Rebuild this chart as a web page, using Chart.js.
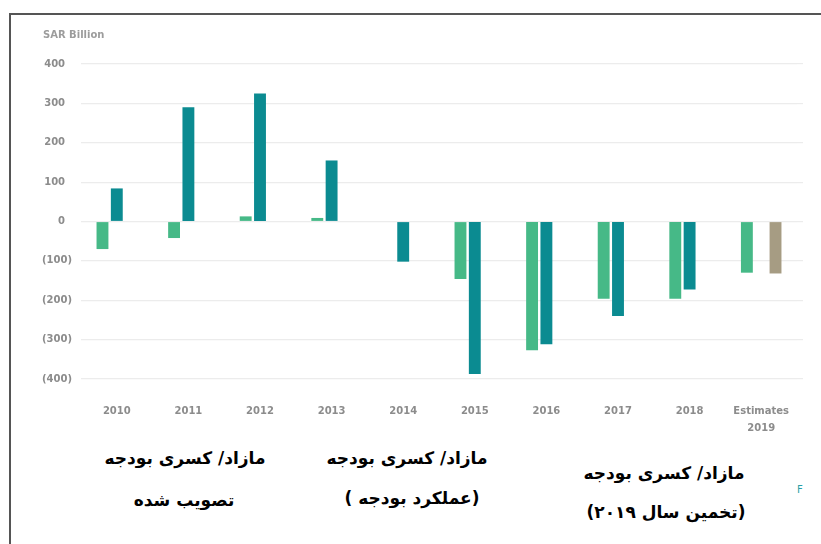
<!DOCTYPE html>
<html>
<head>
<meta charset="utf-8">
<script src="https://cdn.jsdelivr.net/npm/chart.js@4"></script>
<style>
  html, body { margin: 0; padding: 0; background: #fff; }
  body { width: 821px; height: 544px; position: relative; overflow: hidden; }
  #frame { position: absolute; left: 9px; top: 13px; width: 830px; height: 560px;
           border-top: 2px solid #555; border-left: 2px solid #555; }
  #wrap { position: absolute; left: 0; top: 0; width: 821px; height: 440px; }
  .fa { position: absolute; transform: translate(-50%, -50%); white-space: nowrap;
        direction: rtl; text-align: center; font-family: "DejaVu Sans", sans-serif;
        font-weight: bold; font-size: 17px; color: #000; }
  #mark { position: absolute; left: 797px; top: 484px; font: 10px "DejaVu Sans", sans-serif; color: #2a9fa5; }
</style>
</head>
<body>
<div id="frame"></div>
<div id="wrap"><canvas id="chart"></canvas></div>

<div class="fa" style="left:185px; top:458px;">مازاد/ کسری بودجه</div>
<div class="fa" style="left:184px; top:500px;">تصویب شده</div>
<div class="fa" style="left:407px; top:458px;">مازاد/ کسری بودجه</div>
<div class="fa" style="left:412px; top:498px;">(عملکرد بودجه )</div>
<div class="fa" style="left:664px; top:473px;">مازاد/ کسری بودجه</div>
<div class="fa" style="left:666px; top:512px;">(تخمین سال ۲۰۱۹)</div>
<div id="mark">F</div>

<script>
// categories and series, SAR billion
var years = ['2010', '2011', '2012', '2013', '2014', '2015', '2016', '2017', '2018', ['Estimates', '2019']];
var approvedBudget = [-70, -42, 13, 9, null, -146, -327, -196, -196, -130];
var actualBudget = [84, 290, 325, 155, -102, -387, -312, -240, -173, null];
var estimate2019 = [null, null, null, null, null, null, null, null, null, -132];
var yMin = -400, yMax = 400, yStep = 100;
var unitLabel = 'SAR Billion';

var tickFont = { family: 'DejaVu Sans', size: 10, weight: 'bold' };
var tickColor = '#8c8c8c';
var gridColor = '#ececec';
var gridWidth = 1.2;

function alignPx(px, w) {
    return Math.round(px - w / 2) + w / 2;
}

// unit label above the y axis, and the few px the grid runs past the last category
var extras = {
    id: 'extras',
    beforeDatasetsDraw: function(chart) {
        var ctx = chart.ctx;
        var area = chart.chartArea;
        var y = chart.scales.y;
        ctx.save();
        ctx.strokeStyle = gridColor;
        ctx.lineWidth = gridWidth;
        y.ticks.forEach(function(t) {
            var py = alignPx(y.getPixelForValue(t.value), gridWidth);
            ctx.beginPath();
            ctx.moveTo(area.right, py);
            ctx.lineTo(area.right + 6, py);
            ctx.stroke();
        });
        ctx.restore();
    },
    afterDraw: function(chart) {
        var ctx = chart.ctx;
        ctx.save();
        ctx.font = 'bold 10px "DejaVu Sans"';
        ctx.fillStyle = '#9c9c9c';
        ctx.textAlign = 'left';
        ctx.textBaseline = 'middle';
        ctx.fillText(unitLabel, chart.chartArea.left - 38, chart.chartArea.top - 29);
        ctx.restore();
    }
};

var barOpts = { categoryPercentage: 0.6, barPercentage: 0.83, borderWidth: 0 };

new Chart(document.getElementById('chart'), {
    type: 'bar',
    data: {
        labels: years,
        datasets: [
            Object.assign({ label: 'approved', data: approvedBudget, backgroundColor: '#46b987' }, barOpts),
            Object.assign({ label: 'actual', data: actualBudget, backgroundColor: '#0b8b91' }, barOpts),
            Object.assign({ label: 'estimate', data: estimate2019, backgroundColor: '#a69c83' }, barOpts)
        ]
    },
    options: {
        responsive: true,
        maintainAspectRatio: false,
        animation: false,
        layout: { padding: { left: 0, right: 24, top: 64, bottom: 0 } },
        plugins: { legend: { display: false }, tooltip: { enabled: false } },
        scales: {
            x: {
                grid: { display: false, drawTicks: false },
                border: { display: false },
                ticks: {
                    font: { family: 'DejaVu Sans', size: 10, weight: 'bold', lineHeight: 1.7 },
                    color: tickColor, padding: 24, maxRotation: 0, autoSkip: false
                },
                afterFit: function(scale) { scale.height = 61; }
            },
            y: {
                min: yMin,
                max: yMax,
                grid: { color: gridColor, lineWidth: gridWidth, drawTicks: false },
                border: { display: false },
                ticks: {
                    stepSize: yStep,
                    font: tickFont,
                    color: tickColor,
                    padding: 9,
                    callback: function(v) { return v < 0 ? '(' + (-v) + ')' : v + '\u2007'; }
                },
                afterFit: function(scale) { scale.width = 81; }
            }
        }
    },
    plugins: [extras]
});
</script>
</body>
</html>
